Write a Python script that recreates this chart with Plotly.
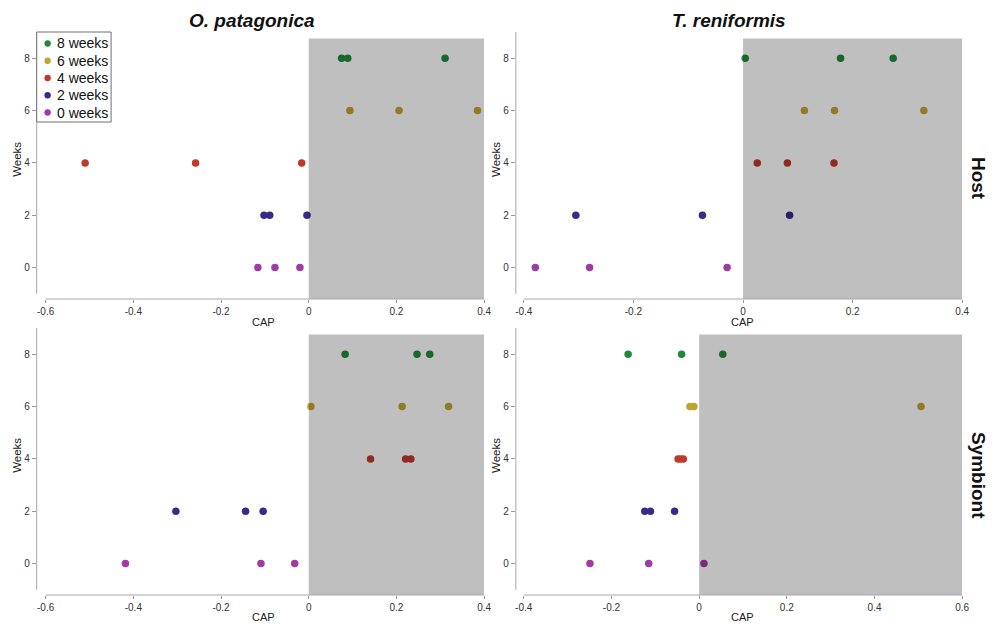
import plotly.graph_objects as go

# ---------------- data ----------------
week_labels = ["8 weeks", "6 weeks", "4 weeks", "2 weeks", "0 weeks"]
week_values = [8, 6, 4, 2, 0]
week_colors = ["#23893a", "#c0a433", "#c03a2c", "#3b2a85", "#a23aa6"]

# CAP scores, one list per week (same order as week_values)
op_host = [
    [0.075, 0.089, 0.311],
    [0.094, 0.206, 0.385],
    [-0.510, -0.258, -0.016],
    [-0.102, -0.089, -0.004],
    [-0.116, -0.077, -0.020],
]
tr_host = [
    [0.004, 0.178, 0.274],
    [0.112, 0.167, 0.330],
    [0.026, 0.081, 0.166],
    [-0.305, -0.074, 0.085],
    [-0.379, -0.280, -0.029],
]
op_sym = [
    [0.083, 0.247, 0.276],
    [0.005, 0.213, 0.319],
    [0.141, 0.221, 0.233],
    [-0.303, -0.144, -0.104],
    [-0.418, -0.109, -0.032],
]
tr_sym = [
    [-0.162, -0.040, 0.054],
    [-0.021, -0.012, 0.506],
    [-0.048, -0.042, -0.036],
    [-0.124, -0.111, -0.056],
    [-0.249, -0.115, 0.011],
]

x_ticks_a = [-0.6, -0.4, -0.2, 0, 0.2, 0.4]
x_ticktext_a = ["-0.6", "-0.4", "-0.2", "0", "0.2", "0.4"]
x_ticks_b = [-0.4, -0.2, 0, 0.2, 0.4]
x_ticktext_b = ["-0.4", "-0.2", "0", "0.2", "0.4"]
x_ticks_c = [-0.4, -0.2, 0, 0.2, 0.4, 0.6]
x_ticktext_c = ["-0.4", "-0.2", "0", "0.2", "0.4", "0.6"]
y_ticks = [0, 2, 4, 6, 8]
y_ticktext = ["0", "2", "4", "6", "8"]

col_titles = ["O. patagonica", "T. reniformis"]
row_titles = ["Host", "Symbiont"]

# ---------------- layout helpers ----------------
W, H = 997, 624
FONT = "Liberation Sans, Arial, sans-serif"

def px_x(p):
    return p / W

def px_y(p):
    return (H - p) / H

panels = [
    # data, x-domain px, y-domain px (top,bottom), x range, ticks, ticktext, gray right edge, first tick
    (op_host, (36, 487), (32, 299), [-0.6204, 0.4], x_ticks_a, x_ticktext_a, 0.4, -0.6),
    (tr_host, (519, 969), (32, 299), [-0.4145, 0.4], x_ticks_b, x_ticktext_b, 0.4, -0.4),
    (op_sym, (36, 487), (328, 595), [-0.6204, 0.4], x_ticks_a, x_ticktext_a, 0.4, -0.6),
    (tr_sym, (519, 969), (328, 595), [-0.418, 0.6], x_ticks_c, x_ticktext_c, 0.6, -0.4),
]

fig = go.Figure()
shapes = []
layout_axes = {}

for i, (data, xd, yd, xr, xt, xtt, gray_right, x_first) in enumerate(panels):
    n = "" if i == 0 else str(i + 1)
    xa, ya = "x" + n, "y" + n
    for w_lab, w_val, col, vals in zip(week_labels, week_values, week_colors, data):
        fig.add_trace(go.Scatter(
            x=vals, y=[w_val] * len(vals), mode="markers",
            marker=dict(size=7.5, color=col, line=dict(width=0)),
            name=w_lab, legendgroup=w_lab, showlegend=False,
            xaxis=xa, yaxis=ya,
        ))
    layout_axes["xaxis" + n] = dict(
        domain=[px_x(xd[0]), px_x(xd[1])], range=xr, anchor=ya,
        tickvals=xt, ticktext=xtt, ticks="outside", ticklen=3, tickcolor="#9a9a9a",
        tickfont=dict(size=10, color="#333333", family=FONT),
        showline=False, showgrid=False, zeroline=False,
    )
    layout_axes["yaxis" + n] = dict(
        domain=[px_y(yd[1]), px_y(yd[0])], range=[-1.2, 9], anchor=xa,
        tickvals=y_ticks, ticktext=y_ticktext, ticks="outside", ticklen=4, tickcolor="#9a9a9a",
        tickfont=dict(size=10, color="#333333", family=FONT),
        showline=False, showgrid=False, zeroline=False,
    )
    # gray shaded region (multiplicative darkening, drawn above markers)
    shapes.append(dict(
        type="rect", xref=xa, yref=ya, x0=0, x1=gray_right, y0=-1.2, y1=8.75,
        fillcolor="black", opacity=0.25, line=dict(width=0), layer="above",
    ))
    # axis lines (offset style)
    shapes.append(dict(
        type="line", xref=xa + " domain", yref=ya, x0=0, x1=0, y0=-1, y1=9,
        line=dict(color="#a8a8a8", width=1), layer="above",
    ))
    shapes.append(dict(
        type="line", xref=xa, yref=ya + " domain", x0=x_first, x1=gray_right, y0=0, y1=0,
        line=dict(color="#a8a8a8", width=1), layer="above",
    ))

annotations = []

# ---- legend box (compact, drawn in paper space) ----
leg_left, leg_top, leg_right, leg_bottom = 36, 32, 111, 122
shapes.append(dict(
    type="rect", xref="paper", yref="paper",
    x0=px_x(leg_left), x1=px_x(leg_right), y0=px_y(leg_bottom), y1=px_y(leg_top),
    fillcolor="white", line=dict(color="#707070", width=1), layer="above",
))
leg_rows = [43.5, 60.8, 78.0, 95.3, 112.5]
for lab, col, cy in zip(week_labels, week_colors, leg_rows):
    r = 3.2
    shapes.append(dict(
        type="circle", xref="paper", yref="paper",
        x0=px_x(47 - r), x1=px_x(47 + r), y0=px_y(cy + r), y1=px_y(cy - r),
        fillcolor=col, line=dict(width=0), layer="above",
    ))
    annotations.append(dict(
        text=lab, x=px_x(54), y=px_y(cy), xref="paper", yref="paper",
        showarrow=False, xanchor="left", yanchor="middle",
        font=dict(size=14, color="#111111", family=FONT),
    ))

# column titles
for t, cx in zip(col_titles, [253, 734]):
    annotations.append(dict(
        text="<b><i>%s</i></b>" % t, x=px_x(cx), y=px_y(20), xref="paper", yref="paper",
        showarrow=False, xanchor="center", yanchor="middle",
        font=dict(size=19, color="#111111", family=FONT),
    ))
# row titles
for t, cy in zip(row_titles, [178, 475]):
    annotations.append(dict(
        text="<b>%s</b>" % t, x=px_x(986), y=px_y(cy), xref="paper", yref="paper",
        showarrow=False, xanchor="center", yanchor="middle", textangle=90,
        font=dict(size=19, color="#111111", family=FONT),
    ))
# axis titles
for cx, cy in [(265, 322), (748, 322), (265, 617), (748, 617)]:
    annotations.append(dict(
        text="CAP", x=px_x(cx), y=px_y(cy), xref="paper", yref="paper",
        showarrow=False, xanchor="center", yanchor="middle",
        font=dict(size=11, color="#222222", family=FONT),
    ))
for cx, cy in [(16, 159), (499, 159), (16, 455), (499, 455)]:
    annotations.append(dict(
        text="Weeks", x=px_x(cx), y=px_y(cy), xref="paper", yref="paper",
        showarrow=False, xanchor="center", yanchor="middle", textangle=-90,
        font=dict(size=11.5, color="#222222", family=FONT),
    ))

fig.update_layout(
    width=W, height=H, margin=dict(l=0, r=0, t=0, b=0),
    paper_bgcolor="white", plot_bgcolor="white",
    font=dict(family=FONT),
    shapes=shapes, annotations=annotations,
    showlegend=False,
    **layout_axes,
)

fig.write_html(
    "out.html",
    config={"displayModeBar": False},
    post_script="document.body.style.margin='0';document.body.style.padding='0';",
)
